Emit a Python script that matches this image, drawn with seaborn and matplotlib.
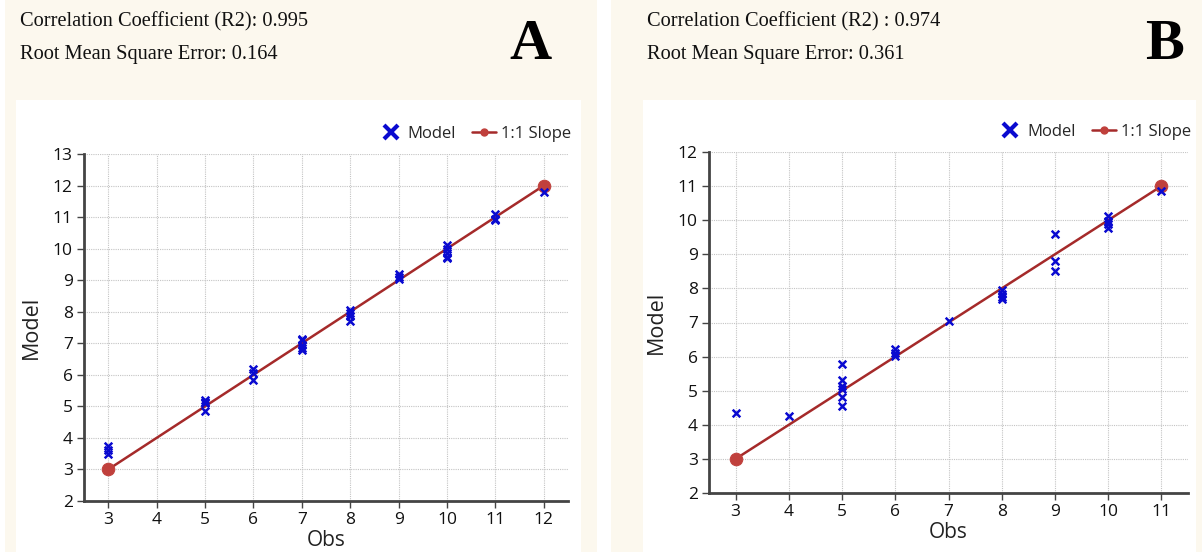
import numpy as np
import pandas as pd
import matplotlib
matplotlib.use("Agg")
import matplotlib.pyplot as plt
import seaborn as sns
from matplotlib.lines import Line2D
from matplotlib.patches import Rectangle

# ---------------- data ----------------
obs_a = [3, 3, 3, 5, 5, 5, 5, 6, 6, 6, 7, 7, 7, 7, 7,
         8, 8, 8, 8, 9, 9, 9, 10, 10, 10, 10, 10, 11, 11, 11, 12]
model_a = [3.75, 3.62, 3.5, 5.2, 5.15, 5.1, 4.85, 6.2, 6.05, 5.85,
           7.15, 7.1, 6.95, 6.85, 6.8, 8.05, 7.95, 7.85, 7.7,
           9.2, 9.1, 9.05, 10.1, 10.0, 9.85, 9.75, 9.7, 11.1, 10.95, 10.9, 11.8]
slope_a = [3, 12]

obs_b = [3, 4, 5, 5, 5, 5, 5, 5, 6, 6, 6, 7, 8, 8, 8, 8,
         9, 9, 9, 10, 10, 10, 10, 11]
model_b = [4.36, 4.26, 5.78, 5.3, 5.15, 5.05, 4.82, 4.55, 6.22, 6.1, 6.02,
           7.05, 7.95, 7.85, 7.75, 7.68, 9.6, 8.8, 8.5,
           10.12, 9.98, 9.88, 9.78, 10.85]
slope_b = [3, 11]

r2 = ["0.995", "0.974"]
rmse = ["0.164", "0.361"]
labels = ["A", "B"]
xticks_a = list(range(3, 13))
yticks_a = list(range(2, 14))
xticks_b = list(range(3, 12))
yticks_b = list(range(2, 13))

# ---------------- style ----------------
sns.set_theme(style="white")
plt.rcParams["font.family"] = ["Open Sans", "DejaVu Sans"]

W, H = 1202, 552
fig = plt.figure(figsize=(W / 100, H / 100), dpi=100)
fig.patch.set_facecolor("white")

cream = "#fcf8ee"

def px_rect(x0, y0, x1, y1, color, z):
    fig.add_artist(Rectangle((x0 / W, 1 - y1 / H), (x1 - x0) / W, (y1 - y0) / H,
                             transform=fig.transFigure, facecolor=color,
                             edgecolor="none", zorder=z))

# panel backgrounds
px_rect(5, 0, 597, 552, cream, -10)
px_rect(16, 100, 581, 552, "white", -9)
px_rect(611, 0, 1202, 552, cream, -10)
px_rect(643, 100, 1196, 552, "white", -9)

blue = "#0a0ad0"
red_line = "#a52a2a"
red_mark = "#c0403c"

panels = [
    dict(obs=obs_a, mod=model_a, slope=slope_a, xt=xticks_a, yt=yticks_a,
         rect=(84, 154, 568, 501), txt_x=20, lab_x=530),
    dict(obs=obs_b, mod=model_b, slope=slope_b, xt=xticks_b, yt=yticks_b,
         rect=(709, 152, 1188, 493), txt_x=647, lab_x=1165),
]

for i, p in enumerate(panels):
    x0, y0, x1, y1 = p["rect"]
    ax = fig.add_axes([x0 / W, 1 - y1 / H, (x1 - x0) / W, (y1 - y0) / H])
    ax.set_facecolor("white")
    df = pd.DataFrame({"Obs": p["obs"], "Model": p["mod"]})
    sdf = pd.DataFrame({"Obs": p["slope"], "Model": p["slope"]})
    sns.lineplot(data=sdf, x="Obs", y="Model", ax=ax, color=red_line, lw=1.8,
                 marker="o", markersize=9, markerfacecolor=red_mark,
                 markeredgecolor=red_mark, zorder=3)
    sns.scatterplot(data=df, x="Obs", y="Model", ax=ax, marker="x", color=blue,
                    s=30, linewidth=1.8, zorder=4)
    ax.set_xlim(p["xt"][0] - 0.5, p["xt"][-1] + 0.5)
    ax.set_ylim(p["yt"][0], p["yt"][-1])
    ax.set_xticks(p["xt"])
    ax.set_yticks(p["yt"])
    ax.grid(True, color="#c4c4c4", linestyle=(0, (1, 1)), linewidth=0.8)
    ax.set_axisbelow(True)
    for s in ["top", "right"]:
        ax.spines[s].set_visible(False)
    for s in ["left", "bottom"]:
        ax.spines[s].set_color("#444444")
        ax.spines[s].set_linewidth(2)
    ax.tick_params(axis="both", which="both", direction="out", length=5,
                   width=1, color="#444444", labelsize=12.5, labelcolor="#111111",
                   bottom=True, left=True, pad=3)
    ax.set_xlabel("Obs", fontsize=15, color="#222222", labelpad=1)
    ax.set_ylabel("Model", fontsize=15.5, color="#222222", labelpad=8)

    handles = [
        Line2D([], [], marker="x", color=blue, linestyle="none", markersize=10,
               markeredgewidth=3, label="Model"),
        Line2D([], [], marker="o", color=red_line, lw=1.8, markersize=5,
               markerfacecolor=red_mark, markeredgecolor=red_mark, label="1:1 Slope"),
    ]
    ax.legend(handles=handles, loc="lower right", bbox_to_anchor=(1.03, 1.0),
              ncol=2, frameon=False, fontsize=12, handlelength=1.4,
              handletextpad=0.3, columnspacing=1.0, borderaxespad=0.3)

    fig.text(p["txt_x"] / W, 1 - 22 / H, f"Correlation Coefficient (R2)" + (": " if i == 0 else " : ") + r2[i],
             family="Liberation Serif", fontsize=14.7, va="center", ha="left", color="#111111")
    fig.text(p["txt_x"] / W, 1 - 55 / H, f"Root Mean Square Error: {rmse[i]}",
             family="Liberation Serif", fontsize=14.7, va="center", ha="left", color="#111111")
    fig.text(p["lab_x"] / W, 1 - 45 / H, labels[i], family="Liberation Serif",
             fontweight="bold", fontsize=42, va="center", ha="center", color="black")

fig.savefig("out.png", dpi=100, facecolor=fig.get_facecolor())
